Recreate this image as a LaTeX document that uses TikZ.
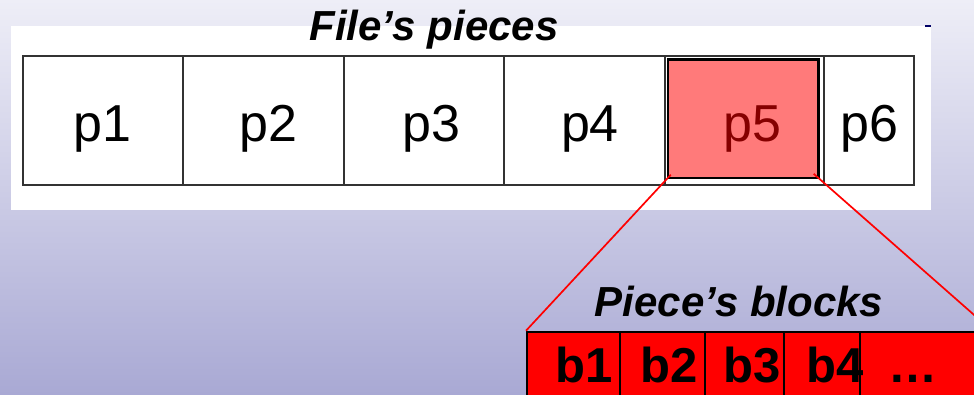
\documentclass[tikz,border=0pt]{standalone}
\usepackage{fontspec}
\setmainfont{Liberation Sans}
\usepackage{xcolor}
\definecolor{bgtop}{RGB}{238,238,247}
\definecolor{bgbottom}{RGB}{169,169,212}

\begin{document}
\begin{tikzpicture}[x=1pt,y=-1pt,
    piece/.style={draw=black!80,line width=1.9pt,anchor=north west,minimum height=129.3pt,inner sep=0pt},
    plabel/.style={anchor=base,inner sep=0pt,font=\fontsize{52}{52}\selectfont},
    block/.style={draw=black,fill=red,line width=2pt,anchor=north west,minimum height=100pt,inner sep=0pt},
    blabel/.style={anchor=base,inner sep=0pt,font=\fontsize{49}{49}\selectfont\bfseries},
    caption/.style={anchor=base,inner sep=0pt,font=\fontsize{42}{42}\selectfont\bfseries\itshape},
    zoomline/.style={red,line width=1.7pt}]
    \useasboundingbox (0,0) rectangle (974,394);
    \clip (0,0) rectangle (974,394);
    \shade[top color=bgtop,bottom color=bgbottom] (0,0) rectangle (974,394);
    \fill[white] (11,26) rectangle (931,210);
    \draw[line width=1.2pt,black!60!blue] (925,26) -- (931,26);

    \node[caption] (filecap) at (434,40) {File’s pieces};
    \foreach \n/\l/\r/\t in {1/21.7/182.3/102.2,2/182.3/342.7/268.3,3/342.7/503/431.7,4/503/664/590,5/664/823/752.5,6/823/912.7/869}{
        \node[piece,minimum width={(\r-\l)*1pt}] (p\n) at (\l,55) {};
        \node[plabel] (t\n) at (\t,141) {p\n};
    }
    \node[draw=black,line width=2.4pt,fill=red,fill opacity=.52,draw opacity=1,anchor=north west,
        minimum width=150.6pt,minimum height=118.4pt,inner sep=0pt] (hl) at (666.7,58.3) {};

    \node[caption] (blockcap) at (739,316) {Piece’s blocks};
    \foreach \n/\l/\r in {1/526/619,2/619/704,3/704/782.7,4/782.7/859,5/859/990}
        \node[block,minimum width={(\r-\l)*1pt}] (b\n) at (\l,330.7) {};
    \foreach \n/\t/\s in {1/584.2/b1,2/668.8/b2,3/752/b3,4/835/b4,5/912.5/…}
        \node[blabel] (s\n) at (\t,382.5) {\s};

    \draw[zoomline,shorten <=-6pt] (hl.south west) -- (b1.north west);
    \draw[zoomline,shorten <=-8pt] (hl.south east) -- (b5.north east);
\end{tikzpicture}
\end{document}
